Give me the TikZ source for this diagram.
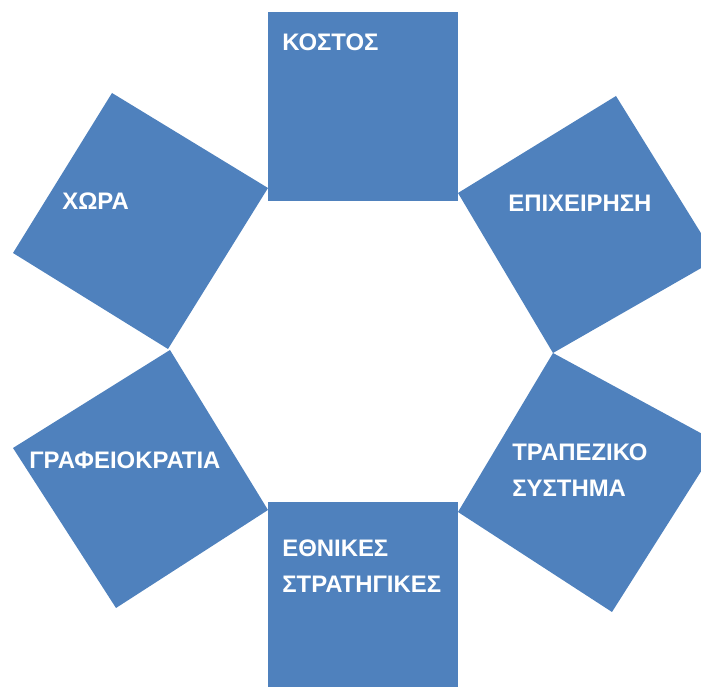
\documentclass[tikz,border=0pt]{standalone}
\usepackage{fontspec}
\setmainfont{Liberation Sans}
\usepackage{xcolor}
\definecolor{sqblue}{HTML}{4F81BD}

\begin{document}
\begin{tikzpicture}[x=0.02cm, y=-0.02cm,
    sq/.style={fill=sqblue},
    lbl/.style={text=white, font=\fontsize{13.6}{21}\selectfont\bfseries, anchor=base west, inner sep=0pt, align=left}]
    \useasboundingbox (0,0) rectangle (701,688);
    \clip (0,0) rectangle (701,688);
    % six squares round the hexagon
    \fill[sq] (268,12) rectangle (458,201);
    \fill[sq] (112,93) -- (268,188) -- (168,349) -- (13,253) -- cycle;
    \fill[sq] (458,193) -- (616,96) -- (717,259) -- (553,353) -- cycle;
    \fill[sq] (170,350) -- (268,510) -- (116,608) -- (13,448) -- cycle;
    \fill[sq] (553,353) -- (719,443) -- (612,612) -- (458,512) -- cycle;
    \fill[sq] (268,502) rectangle (458,687);
    % labels (base of the last line)
    \node[lbl] (kostos)  at (282,51)  {ΚΟΣΤΟΣ};
    \node[lbl] (chora)   at (62,210)  {ΧΩΡΑ};
    \node[lbl] (epix)    at (508,212) {ΕΠΙΧΕΙΡΗΣΗ};
    \node[lbl] (grafeio) at (29,469)  {ΓΡΑΦΕΙΟΚΡΑΤΙΑ};
    \node[lbl] (trapeza) at (512,497) {ΤΡΑΠΕΖΙΚΟ\\ΣΥΣΤΗΜΑ};
    \node[lbl] (ethnikes) at (282,593) {ΕΘΝΙΚΕΣ\\ΣΤΡΑΤΗΓΙΚΕΣ};
\end{tikzpicture}
\end{document}
